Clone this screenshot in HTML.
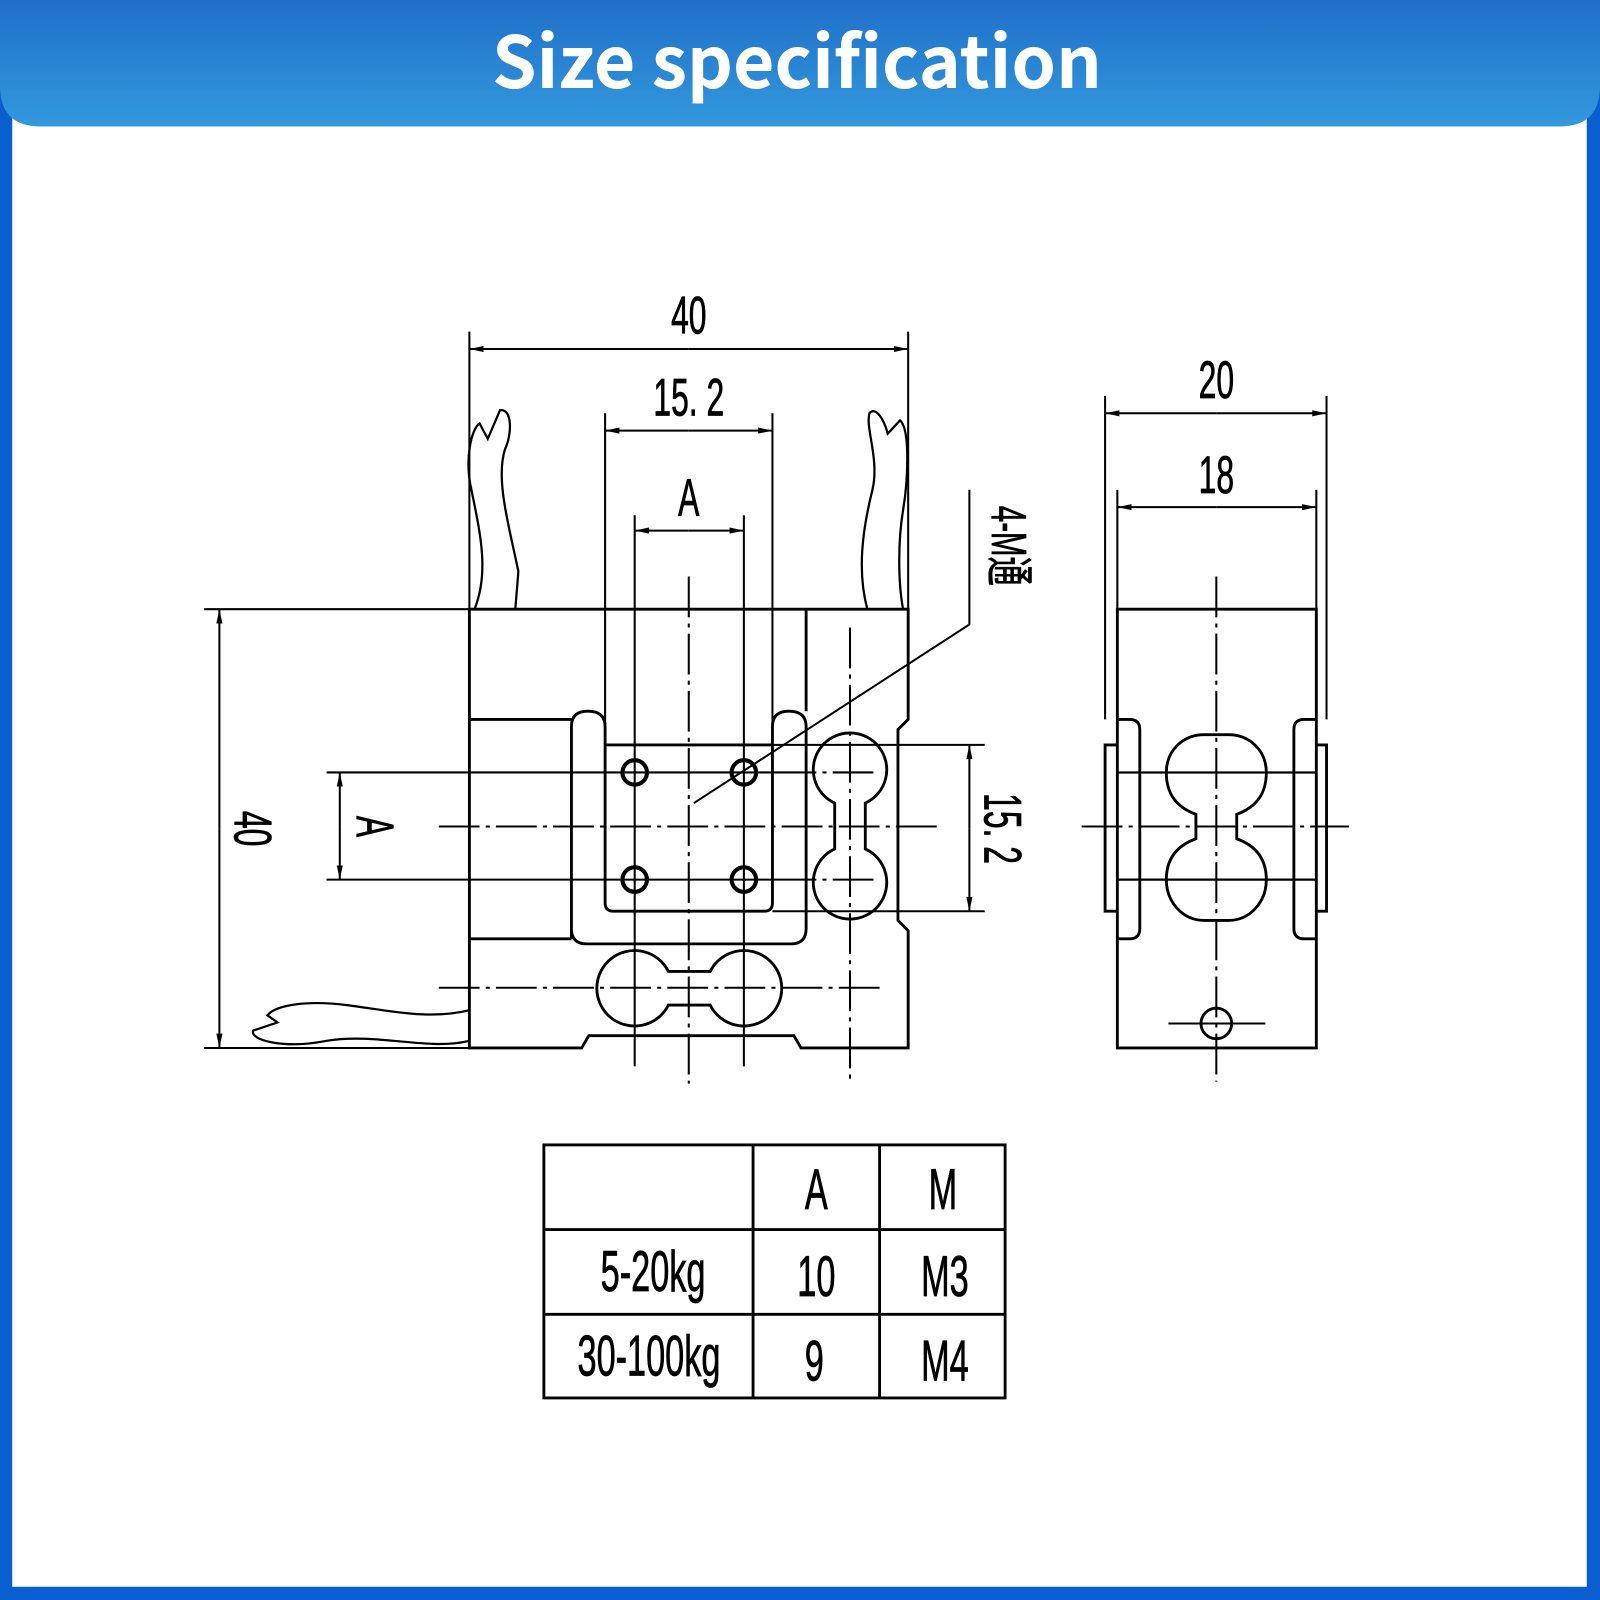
<!DOCTYPE html>
<html><head><meta charset="utf-8"><style>
html,body{margin:0;padding:0;background:#fff}
svg{display:block}
.t{font-family:"Liberation Sans","Noto Sans CJK SC",sans-serif;fill:#000;stroke:#000;stroke-width:0.8}
</style></head><body>
<svg width="1600" height="1600" viewBox="0 0 1568 1568" xmlns="http://www.w3.org/2000/svg">
<defs>
<linearGradient id="g" x1="0" y1="0" x2="0" y2="1"><stop offset="0" stop-color="#1f6fc8"/><stop offset="1" stop-color="#3399dd"/></linearGradient>
<marker id="a" markerWidth="14" markerHeight="8" refX="14" refY="4" orient="auto" markerUnits="userSpaceOnUse"><path d="M0,1 L14,4 L0,7 Z" fill="#000"/></marker>
</defs>
<rect x="0" y="0" width="1568" height="1568" fill="#0a5fd0"/>
<rect x="12" y="0" width="1543" height="1555" fill="#fff"/>
<path d="M0,0 H1568 V84 Q1568,124 1528,124 H40 Q0,124 0,84 Z" fill="url(#g)"/>
<text x="781" y="86" text-anchor="middle" font-family="Noto Sans CJK SC, Liberation Sans, sans-serif" font-weight="bold" font-size="70" fill="#fff">Size specification</text>

<g fill="none" stroke="#000" stroke-width="2.8">
<path d="M460,597 H890 V705 L880,715 V902 L890,912 V1027 H785 L778,1015 H577 L570,1027 H460 Z"/>
<line x1="200" y1="597" x2="460" y2="597" stroke-width="2"/>
<line x1="200" y1="1027" x2="460" y2="1027" stroke-width="2"/>
<path d="M460,705 H560 M460,920 H560"/>
<path d="M560,920 V712 Q560,697 576,697 Q593,697 593,712 V885 Q593,893 601,893 H749 Q757,893 757,885 V712 Q757,697 773,697 Q790,697 790,712 V910 Q790,925 775,925 H575 Q560,925 560,910"/>
<path d="M593,730 H757"/>
<line x1="790" y1="597" x2="790" y2="697"/>
<g stroke-width="4"><circle cx="622" cy="757" r="12"/><circle cx="729" cy="757" r="12"/><circle cx="622" cy="862" r="12"/><circle cx="729" cy="862" r="12"/></g>
<path d="M818,787 A36,36 0 1 1 848,787 V832 A36,36 0 1 1 818,832 Z"/>
<path d="M655,952 H696 A37,37 0 1 1 696,985 H655 A37,37 0 1 1 655,952 Z"/>
<path d="M465,597 C480,560 470,520 462,480 C455,450 462,420 470,415 L478,430 L490,402 C502,400 502,425 495,440 C485,470 500,520 508,560 L505,597" stroke-width="2.2"/>
<path d="M850,597 C840,560 845,520 855,480 C862,450 848,420 852,405 C858,398 866,410 870,425 L882,412 C892,420 890,470 885,500 C880,530 880,570 885,597" stroke-width="2.2"/>
<path d="M460,990 C420,1000 380,990 340,985 C300,980 270,985 262,995 L272,1002 L248,1010 C245,1020 280,1028 320,1020 C370,1012 420,1030 460,1020" stroke-width="2.2"/>
</g>

<g stroke="#000" stroke-width="2" fill="none">
<line x1="460" y1="325" x2="460" y2="597"/><line x1="890" y1="325" x2="890" y2="597"/>
<line x1="593" y1="405" x2="593" y2="730"/><line x1="757" y1="405" x2="757" y2="730"/>
<line x1="622" y1="505" x2="622" y2="1045"/><line x1="729" y1="505" x2="729" y2="1045"/>
<line x1="320" y1="757" x2="760" y2="757"/><line x1="320" y1="862" x2="760" y2="862"/>
<line x1="757" y1="730" x2="965" y2="730"/><line x1="757" y1="893" x2="965" y2="893"/>
<line x1="675" y1="342" x2="460" y2="342" marker-end="url(#a)"/><line x1="675" y1="342" x2="890" y2="342" marker-end="url(#a)"/>
<line x1="675" y1="422" x2="593" y2="422" marker-end="url(#a)"/><line x1="675" y1="422" x2="757" y2="422" marker-end="url(#a)"/>
<line x1="675" y1="520" x2="622" y2="520" marker-end="url(#a)"/><line x1="675" y1="520" x2="729" y2="520" marker-end="url(#a)"/>
<line x1="215" y1="812" x2="215" y2="597" marker-end="url(#a)"/><line x1="215" y1="812" x2="215" y2="1027" marker-end="url(#a)"/>
<line x1="333" y1="810" x2="333" y2="757" marker-end="url(#a)"/><line x1="333" y1="810" x2="333" y2="862" marker-end="url(#a)"/>
<line x1="950" y1="812" x2="950" y2="730" marker-end="url(#a)"/><line x1="950" y1="812" x2="950" y2="893" marker-end="url(#a)"/>
<path d="M680,787 L950,612 V480"/>
<g stroke-dasharray="40,6,4,6">
<line x1="675" y1="565" x2="675" y2="1062"/>
<line x1="833" y1="615" x2="833" y2="1060"/>
<line x1="430" y1="810" x2="922" y2="810"/>
<line x1="430" y1="968" x2="862" y2="968"/>
<line x1="760" y1="757" x2="860" y2="757"/><line x1="760" y1="862" x2="860" y2="862"/>
<line x1="1192" y1="565" x2="1192" y2="1060"/>
<line x1="1060" y1="810" x2="1322" y2="810"/>
</g>
<line x1="1083" y1="388" x2="1083" y2="705"/><line x1="1300" y1="388" x2="1300" y2="705"/>
<line x1="1095" y1="480" x2="1095" y2="597"/><line x1="1290" y1="480" x2="1290" y2="597"/>
<line x1="1192" y1="405" x2="1083" y2="405" marker-end="url(#a)"/><line x1="1192" y1="405" x2="1300" y2="405" marker-end="url(#a)"/>
<line x1="1192" y1="497" x2="1095" y2="497" marker-end="url(#a)"/><line x1="1192" y1="497" x2="1290" y2="497" marker-end="url(#a)"/>
<line x1="1145" y1="1003" x2="1240" y2="1003"/>
</g>

<g fill="none" stroke="#000" stroke-width="2.8">
<rect x="1095" y="597" width="195" height="430"/>
<path d="M1095,705 H1107 Q1117,705 1117,715 V910 Q1117,920 1107,920 H1095"/>
<path d="M1290,705 H1278 Q1268,705 1268,715 V910 Q1268,920 1278,920 H1290"/>
<path d="M1095,730 H1083 V893 H1095 M1290,730 H1300 V893 H1290"/>
<path d="M1095,757 H1290 M1095,862 H1290" stroke-width="2.2"/>
<path d="M1172,798 C1150,790 1143,775 1143,757 C1143,735 1160,720 1180,720 H1204 C1224,720 1241,735 1241,757 C1241,775 1234,790 1212,798 V822 C1234,830 1241,845 1241,862 C1241,885 1224,902 1204,902 H1180 C1160,902 1143,885 1143,862 C1143,845 1150,830 1172,822 Z"/>
<circle cx="1192" cy="1003" r="15"/>
</g>

<g class="t" font-size="52">
<text transform="translate(675,327) scale(0.6,1)" text-anchor="middle">40</text>
<text transform="translate(675,407) scale(0.6,1)" text-anchor="middle">15. 2</text>
<text transform="translate(675,505) scale(0.6,1)" text-anchor="middle">A</text>
<text transform="translate(1192,390) scale(0.6,1)" text-anchor="middle">20</text>
<text transform="translate(1192,483) scale(0.6,1)" text-anchor="middle">18</text>
<text transform="translate(230,812) rotate(90) scale(0.6,1)" text-anchor="middle">40</text>
<text transform="translate(350,810) rotate(90) scale(0.6,1)" text-anchor="middle">A</text>
<text transform="translate(965,812) rotate(90) scale(0.6,1)" text-anchor="middle">15. 2</text>
<text transform="translate(972,535) rotate(90) scale(0.6,1)" text-anchor="middle" font-size="48">4-M通</text>
</g>

<g fill="none" stroke="#000" stroke-width="2.8">
<rect x="533" y="1122" width="452" height="248"/>
<path d="M738,1122 V1370 M862,1122 V1370 M533,1205 H985 M533,1288 H985"/>
</g>
<g class="t" font-size="56">
<text transform="translate(800,1185) scale(0.6,1)" text-anchor="middle">A</text>
<text transform="translate(924,1185) scale(0.6,1)" text-anchor="middle">M</text>
<text transform="translate(640,1265) scale(0.6,1)" text-anchor="middle">5-20kg</text>
<text transform="translate(800,1270) scale(0.6,1)" text-anchor="middle">10</text>
<text transform="translate(926,1270) scale(0.6,1)" text-anchor="middle">M3</text>
<text transform="translate(636,1348) scale(0.6,1)" text-anchor="middle">30-100kg</text>
<text transform="translate(798,1353) scale(0.6,1)" text-anchor="middle">9</text>
<text transform="translate(926,1353) scale(0.6,1)" text-anchor="middle">M4</text>
</g>
</svg>
</body></html>
